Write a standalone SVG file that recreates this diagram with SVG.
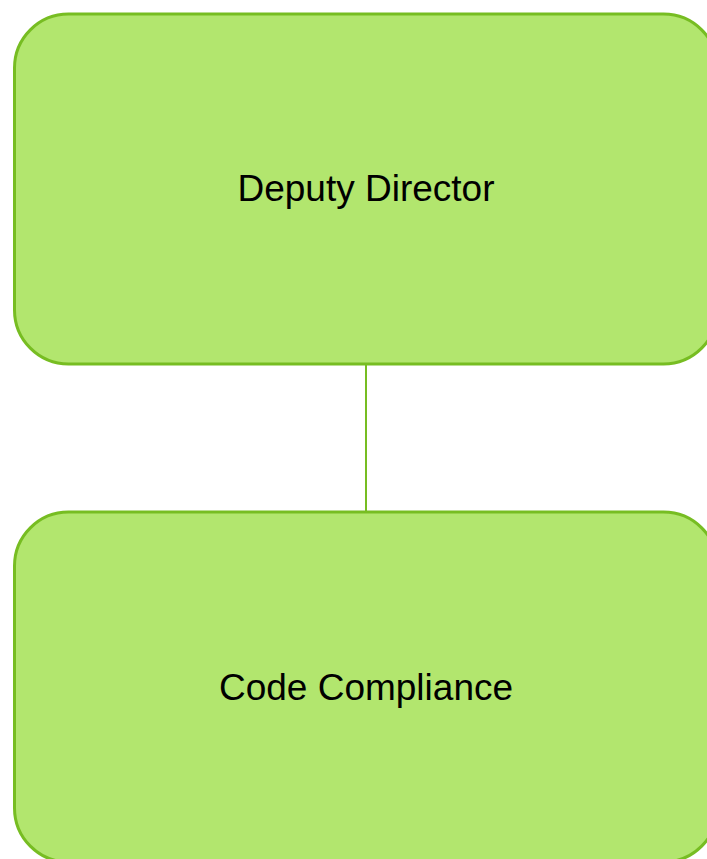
<svg xmlns="http://www.w3.org/2000/svg" width="707" height="859" viewBox="0 0 707 859">
<style>
.box{fill:#b2e66e;stroke:#77bd22;stroke-width:3}
.lbl{font-family:"Liberation Sans",Arial,sans-serif;font-size:37px;fill:#000;text-anchor:middle}
.conn{stroke:#77bd22;stroke-width:2;fill:none}
</style>
<rect width="707" height="859" fill="#fff"/>
<g id="connectors">
<line class="conn" x1="366" y1="364" x2="366" y2="512"/>
</g>
<g id="deputy-director">
<rect class="box" x="14.5" y="14" width="703" height="350" rx="54" ry="54"/>
<text class="lbl" x="366" y="201">Deputy Director</text>
</g>
<g id="code-compliance">
<rect class="box" x="14.5" y="512" width="703" height="350" rx="54" ry="54"/>
<text class="lbl" x="366" y="700">Code Compliance</text>
</g>
</svg>
